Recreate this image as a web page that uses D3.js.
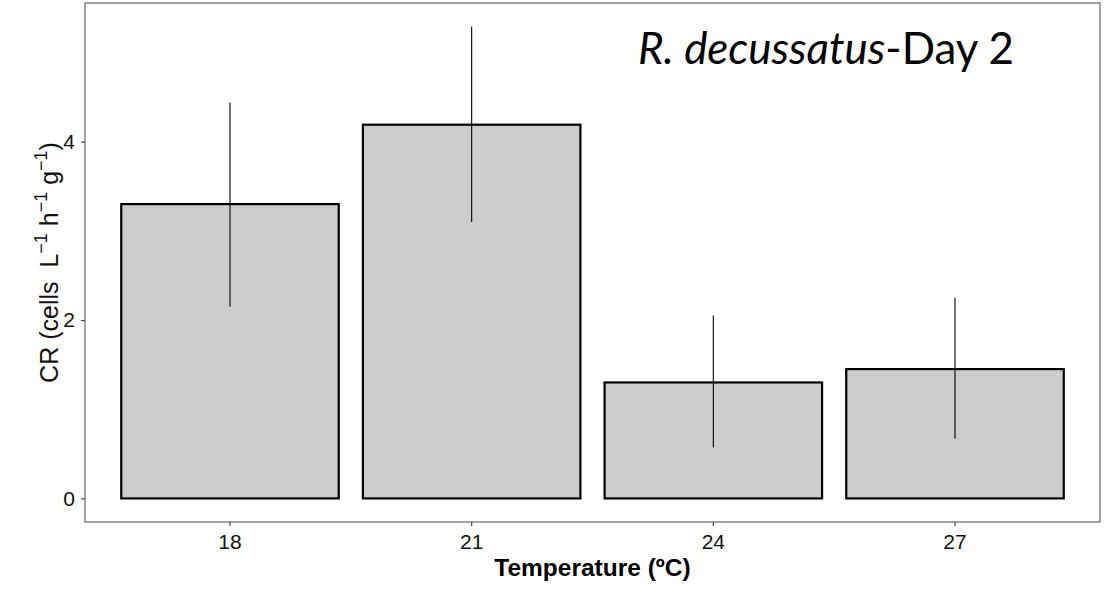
<!DOCTYPE html>
<html>
<head>
<meta charset="utf-8">
<script src="https://cdn.jsdelivr.net/npm/d3@7"></script>
<style>
  body { margin: 0; background: #fff; }
  svg { display: block; }
</style>
</head>
<body>
<svg id="svg" width="1112" height="590"></svg>
<script>
//categories and values
const temps = ["18", "21", "24", "27"];
const crMean = [3.30, 4.19, 1.30, 1.45];
const errLow = [2.15, 3.10, 0.57, 0.67];
const errHigh = [4.44, 5.29, 2.05, 2.25];
const yTicks = [0, 2, 4];

const W = 1112, H = 590;
const margin = {top: 3, right: 12, bottom: 68, left: 85};

var data = temps.map(function (t, i) {
    return {t: t, mean: crMean[i], lo: errLow[i], hi: errHigh[i]};
});

var svg = d3.select("#svg");

//ggplot style: discrete x with 0.6 unit expansion, bars 0.9 wide
var x = d3.scaleBand()
        .domain(temps)
        .range([margin.left, W - margin.right])
        .paddingInner(0.1)
        .paddingOuter(0.15);

//y expanded 5% either side of [0, max]
var yMax = d3.max(data, d => d.hi);
var y = d3.scaleLinear()
        .domain([-0.05 * yMax, 1.05 * yMax])
        .range([H - margin.bottom, margin.top]);

//bars
svg.append("g")
        .selectAll("rect")
        .data(data)
        .enter()
        .append("rect")
        .attr("x", d => x(d.t))
        .attr("y", d => y(d.mean))
        .attr("width", x.bandwidth())
        .attr("height", d => y(0) - y(d.mean))
        .attr("fill", "#cccccc")
        .attr("stroke", "#000")
        .attr("stroke-width", 2.2);

//error bars, no caps
svg.append("g")
        .selectAll("line")
        .data(data)
        .enter()
        .append("line")
        .attr("x1", d => x(d.t) + x.bandwidth() / 2)
        .attr("x2", d => x(d.t) + x.bandwidth() / 2)
        .attr("y1", d => y(d.lo))
        .attr("y2", d => y(d.hi))
        .attr("stroke", "#000")
        .attr("stroke-width", 1.1);

//panel border
svg.append("rect")
        .attr("x", margin.left)
        .attr("y", margin.top)
        .attr("width", W - margin.left - margin.right)
        .attr("height", H - margin.top - margin.bottom)
        .attr("fill", "none")
        .attr("stroke", "#666")
        .attr("stroke-width", 1.2);

//axes
var xAxis = d3.axisBottom(x).tickSize(4).tickPadding(8);
var gx = svg.append("g")
        .attr("transform", "translate(0," + (H - margin.bottom) + ")")
        .call(xAxis);

var yAxis = d3.axisLeft(y).tickValues(yTicks).tickFormat(d3.format("d"))
        .tickSize(4).tickPadding(6);
var gy = svg.append("g")
        .attr("transform", "translate(" + margin.left + ",0)")
        .call(yAxis);

[gx, gy].forEach(function (g) {
    g.select(".domain").remove();
    g.selectAll(".tick line").attr("stroke", "#444").attr("stroke-width", 1.2);
    g.selectAll(".tick text")
            .attr("fill", "#111")
            .style("font-family", "'Liberation Sans', Arial, sans-serif")
            .style("font-size", "21px");
});

//axis titles
svg.append("text")
        .attr("x", (margin.left + W - margin.right) / 2)
        .attr("y", 576)
        .attr("text-anchor", "middle")
        .style("font-family", "'Liberation Sans', Arial, sans-serif")
        .style("font-size", "24.5px")
        .style("font-weight", "bold")
        .text("Temperature (ºC)");

var yt = svg.append("text")
        .attr("transform", "translate(58," + ((margin.top + H - margin.bottom) / 2) + ") rotate(-90)")
        .attr("text-anchor", "middle")
        .style("font-family", "'Liberation Sans', Arial, sans-serif")
        .style("font-size", "25px")
        .attr("fill", "#111");
yt.append("tspan").text("CR (cells\u00a0 L");
yt.append("tspan").attr("dy", -11).style("font-size", "18px").text("\u22121");
yt.append("tspan").attr("dy", 11).text("\u00a0h");
yt.append("tspan").attr("dy", -11).style("font-size", "18px").text("\u22121");
yt.append("tspan").attr("dy", 11).text("\u00a0g");
yt.append("tspan").attr("dy", -11).style("font-size", "18px").text("\u22121");
yt.append("tspan").attr("dy", 11).text(")");

//title inside panel
var tt = svg.append("text")
        .attr("x", 638)
        .attr("y", 64)
        .attr("textLength", 376)
        .attr("lengthAdjust", "spacingAndGlyphs")
        .style("font-family", "Lato, 'Open Sans', sans-serif")
        .style("font-size", "44px")
        .attr("fill", "#000");
tt.append("tspan").style("font-style", "italic").text("R. decussatus");
tt.append("tspan").text("-Day 2");
</script>
</body>
</html>
